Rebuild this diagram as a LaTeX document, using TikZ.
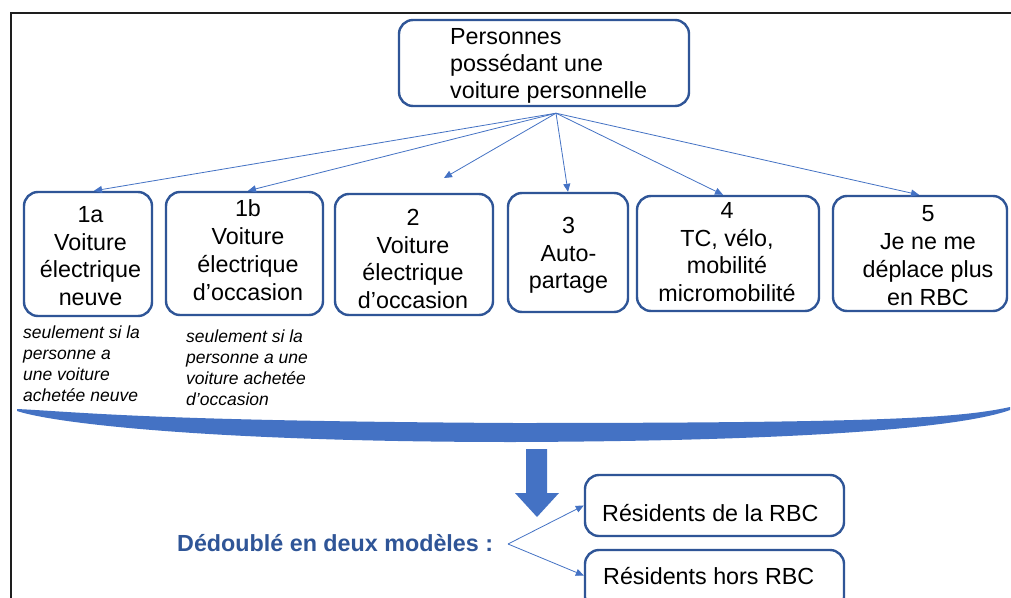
\documentclass[tikz,border=0pt]{standalone}
\usepackage{fontspec}
\setmainfont{Liberation Sans}
\usetikzlibrary{arrows.meta,calc}

\definecolor{boxblue}{HTML}{2F5597}
\definecolor{linkblue}{HTML}{4472C4}
\definecolor{framegray}{HTML}{1E1E1E}

\tikzset{
  box/.style={draw=boxblue, line width=2.4pt, rounded corners=14pt,
              inner sep=0pt, fill=white},
  boxtext/.style={inner sep=0pt, align=center, anchor=north,
                  font={\fontsize{23.3}{27.8}\selectfont}},
  notetext/.style={inner sep=0pt, align=left, anchor=north west,
                   font={\fontsize{17.5}{21.2}\selectfont\itshape}},
  link/.style={draw=linkblue, line width=0.8pt,
               -{Triangle[length=8pt,width=7pt]}},
  frameline/.style={draw=framegray, line width=2pt},
}
% first-line strut so that every text block hangs from a known baseline
\newcommand{\topstrut}{\rule{0pt}{20pt}}
\newcommand{\notestrut}{\rule{0pt}{15pt}}

\begin{document}
\begin{tikzpicture}[x=1pt,y=-1pt]
\useasboundingbox (0,0) rectangle (1011,597);
\clip (0,0) rectangle (1011,597);
\fill[white] (0,0) rectangle (1011,597);

% outer frame (top and left sides)
\draw[frameline] (11,598) -- (11,13) -- (1012,13);

% top box
\node[box, minimum width=290pt, minimum height=86pt] (top) at (544,63) {};
\node[inner sep=0pt, align=left, anchor=north west,
      font={\fontsize{23.3}{27}\selectfont}] (toptext) at (450,24.3)
  {\topstrut Personnes\\possédant une\\voiture personnelle};

% choice boxes
\node[box, minimum width=128pt, minimum height=124pt] (n1a) at (88,254) {};
\node[box, minimum width=157pt, minimum height=123pt] (n1b) at (244.5,253.5) {};
\node[box, minimum width=158pt, minimum height=121pt] (n2) at (414,254.5) {};
\node[box, minimum width=120pt, minimum height=119pt] (n3) at (568,252.5) {};
\node[box, minimum width=182pt, minimum height=115pt] (n4) at (728,253.5) {};
\node[box, minimum width=174pt, minimum height=115pt] (n5) at (920,253.5) {};

\node[boxtext] (t1a) at (90.5,202) {\topstrut 1a\\Voiture\\électrique\\neuve};
\node[boxtext] (t1b) at (248,196.5) {\topstrut 1b\\Voiture\\électrique\\d’occasion};
\node[boxtext] (t2) at (413,205) {\topstrut 2\\Voiture\\électrique\\d’occasion};
\node[boxtext] (t3) at (568.5,213) {\topstrut 3\\Auto-\\partage};
\node[boxtext] (t4) at (727,198) {\topstrut 4\\TC, vélo,\\mobilité\\micromobilité};
\node[boxtext] (t5) at (928,201.7) {\topstrut 5\\Je ne me\\déplace plus\\en RBC};

% conditions under 1a and 1b
\node[notetext] (c1a) at (23,323)
  {\notestrut seulement si la\\personne a\\une voiture\\achetée neuve};
\node[notetext] (c1b) at (186,327)
  {\notestrut seulement si la\\personne a une\\voiture achetée\\d’occasion};

% links from the top box
\coordinate (hub) at ([xshift=12pt,yshift=-6pt]top.south);
\coordinate (free) at (444,178);
\draw[link] (hub) -- ([xshift=6pt]n1a.north);
\draw[link] (hub) -- ([xshift=3.5pt]n1b.north);
\draw[link] (hub) -- (free);
\draw[link] (hub) -- (n3.north);
\draw[link] (hub) -- ([xshift=-5pt]n4.north);
\draw[link] (hub) -- ([xshift=-1pt]n5.north);

% curved band gathering all choices
\fill[linkblue] (17,409)
  .. controls (80,412) and (150,421) .. (514,423)
  .. controls (880,423) and (960,418) .. (1010,407)
  -- (1010,410)
  .. controls (960,428) and (800,441) .. (514,442)
  .. controls (230,442) and (60,425) .. (17,411) -- cycle;

% block arrow down
\fill[linkblue] (526,449) -- (547,449) -- (547,493) -- (559,493)
  -- (537,517) -- (515,493) -- (526,493) -- cycle;

% split into two models
\node[inner sep=0pt, anchor=base west, text=boxblue,
      font={\fontsize{23.3}{28}\selectfont\bfseries}] (ded) at (177,551)
  {Dédoublé en deux modèles :};

\node[box, minimum width=259pt, minimum height=61pt] (r1) at (714.5,505.5) {};
\node[box, minimum width=259pt, minimum height=61pt] (r2) at (714.5,580.5) {};
\node[inner sep=0pt, anchor=base west, font={\fontsize{23.3}{28}\selectfont}]
  (r1text) at (602,521.7) {Résidents de la RBC};
\node[inner sep=0pt, anchor=base west, font={\fontsize{23.3}{28}\selectfont}]
  (r2text) at (603,584) {Résidents hors RBC};

\coordinate (split) at (508,544);
\draw[link] (split) -- (r1.west);
\draw[link] (split) -- ([yshift=5pt]r2.west);
\end{tikzpicture}
\end{document}
